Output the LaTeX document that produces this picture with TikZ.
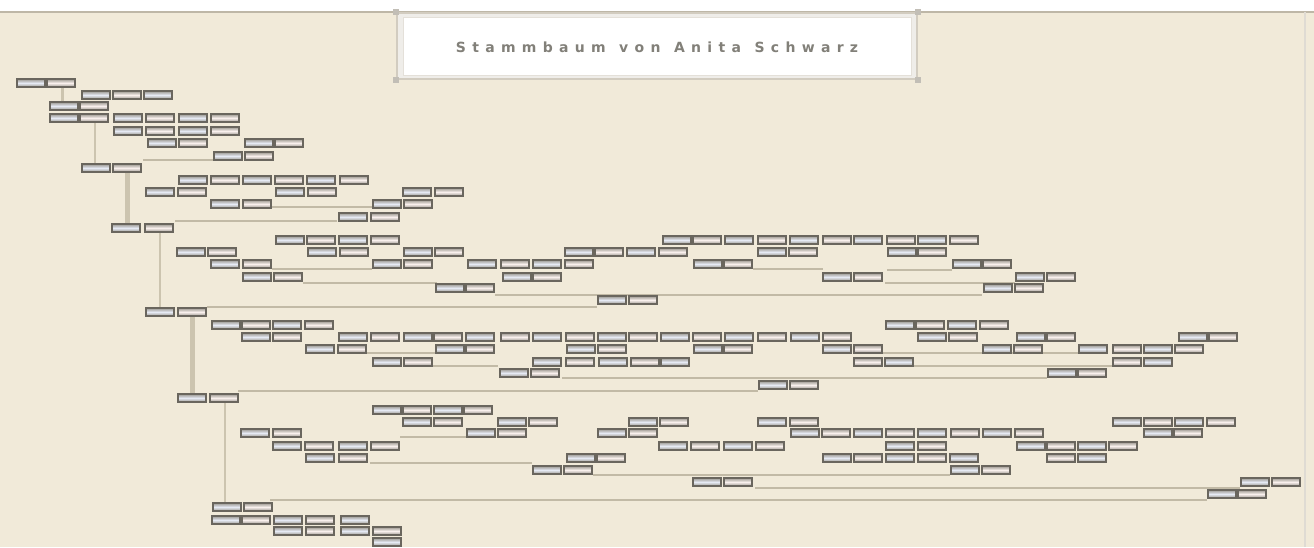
\documentclass[tikz,border=0pt]{standalone}
\usepackage{fontspec}
\newfontfamily\titlefont[LetterSpace=45]{DejaVu Sans Bold}
\definecolor{bg}{HTML}{F1EAD9}
\definecolor{topline}{HTML}{BEB7A7}
\definecolor{hl}{HTML}{C2BAA6}
\definecolor{vl}{HTML}{CCC4AF}
\definecolor{boxline}{HTML}{6A665E}
\definecolor{boxshade}{HTML}{96928A}
\definecolor{malefill}{HTML}{E6EAF4}
\definecolor{femfill}{HTML}{F9F0ED}
\definecolor{titleframe}{HTML}{D2CCC0}
\definecolor{titletext}{HTML}{828079}
\begin{document}
\begin{tikzpicture}[x=1pt,y=-1pt,
  pbox/.style={draw=boxline, line width=1.9pt, minimum width=28.5pt, minimum height=8.5pt,
    inner sep=0pt, top color=boxshade, bottom color=boxshade, middle color=#1},
  pbox/.default=white,
  hline/.style={draw=hl, line width=1.8pt},
  vline/.style={draw=vl, line width=#1},
  vline/.default=2pt]
\useasboundingbox (0,0) rectangle (1314,547);
% background
\fill[white] (0,0) rectangle (1314,547);
\fill[bg] (0,12) rectangle (1314,547);
\draw[topline, line width=1.5pt] (0,12) -- (1314,12);
\draw[titleframe!70, line width=2pt] (1305,12) -- (1305,547);
% title box
\node[draw=titleframe, line width=1.2pt, fill=titleframe!35, minimum width=520pt, minimum height=66pt, inner sep=0pt] (frame) at (657,46) {};
\node[fill=white, draw=titleframe!60, line width=0.8pt, minimum width=508pt, minimum height=58pt, inner sep=0pt] (title) at (657,46) {};
\foreach \c in {north west,north east,south west,south east}{
  \fill[titleframe!85!black!80] (frame.\c) ++(-3,-3) rectangle ++(6,6);
}
\node[text=titletext, font=\titlefont\fontsize{14}{16}\selectfont] (titletxt) at (657,47) {Stammbaum\, von\, Anita\, Schwarz};
% horizontal connectors
\foreach \y/\a/\b [count=\i] in {160/143/213, 207/272/372, 221/175/337, 269/272/372, 269/753/823,
  270/887/952, 283/303/437, 283/885/1015, 295/495/982, 307/207/597, 353/365/435, 353/883/1078,
  366/430/498, 366/913/1112, 378/562/1047, 391/238/758, 437/400/466, 463/370/532, 475/593/950,
  488/755/1240, 500/270/1207}{
  \coordinate (h\i a) at (\a,\y);
  \coordinate (h\i b) at (\b,\y);
  \draw[hline] (h\i a) -- (h\i b);
}
% lineage verticals
\foreach \x/\ya/\yb/\w [count=\i] in {62/87/102/3pt, 95/122/164/2pt, 127/172/224/5pt,
  160/232/308/2pt, 192/317/394/5pt, 225/402/503/2pt}{
  \coordinate (v\i a) at (\x,\ya);
  \coordinate (v\i b) at (\x,\yb);
  \draw[vline=\w] (v\i a) -- (v\i b);
}
% person boxes
\foreach \y/\xs [count=\r] in {
  83/{16,46},
  95/{81,112,143},
  106/{49,79},
  118/{49,79,113,145,178,210},
  131/{113,145,178,210},
  143/{147,178,244,274},
  156/{213,244},
  168/{81,112},
  180/{178,210,242,274,306,339},
  192/{145,177,275,307,402,434},
  204/{210,242,372,403},
  217/{338,370},
  228/{111,144},
  240/{275,306,338,370,662,692,724,757,789,822,853,886,917,949},
  252/{176,207,307,339,403,434,564,594,626,658,757,788,887,917},
  264/{210,242,372,403,467,500,532,564,693,723,952,982},
  277/{242,273,502,532,822,853,1015,1046},
  288/{435,465,983,1014},
  300/{597,628},
  312/{145,177},
  325/{211,241,272,304,885,915,947,979},
  337/{241,272,338,370,403,433,465,500,532,565,597,628,660,692,724,757,790,822,917,948,1016,1046,1178,1208},
  349/{305,337,435,465,566,597,693,723,822,853,982,1013,1078,1112,1143,1174},
  362/{372,403,532,565,598,630,660,853,884,1112,1143},
  373/{499,530,1047,1077},
  385/{758,789},
  398/{177,209},
  410/{372,402,433,463},
  422/{402,433,497,528,628,659,757,789,1112,1143,1174,1206},
  433/{240,272,466,497,597,628,790,821,853,885,917,950,982,1014,1143,1173},
  446/{272,304,338,370,658,690,723,755,885,917,1016,1046,1077,1108},
  458/{305,338,566,596,822,853,885,917,949,1046,1077},
  470/{532,563,950,981},
  482/{692,723,1240,1271},
  494/{1207,1237},
  507/{212,243},
  520/{211,241,273,305,340},
  531/{273,305,340,372},
  542/{372}}{
  \foreach \x [count=\c] in \xs {
    \ifodd\c
      \node[pbox=malefill] (b-\r-\c) at (\x+15,\y) {};
    \else
      \node[pbox=femfill] (b-\r-\c) at (\x+15,\y) {};
    \fi
  }
}
\end{tikzpicture}
\end{document}
